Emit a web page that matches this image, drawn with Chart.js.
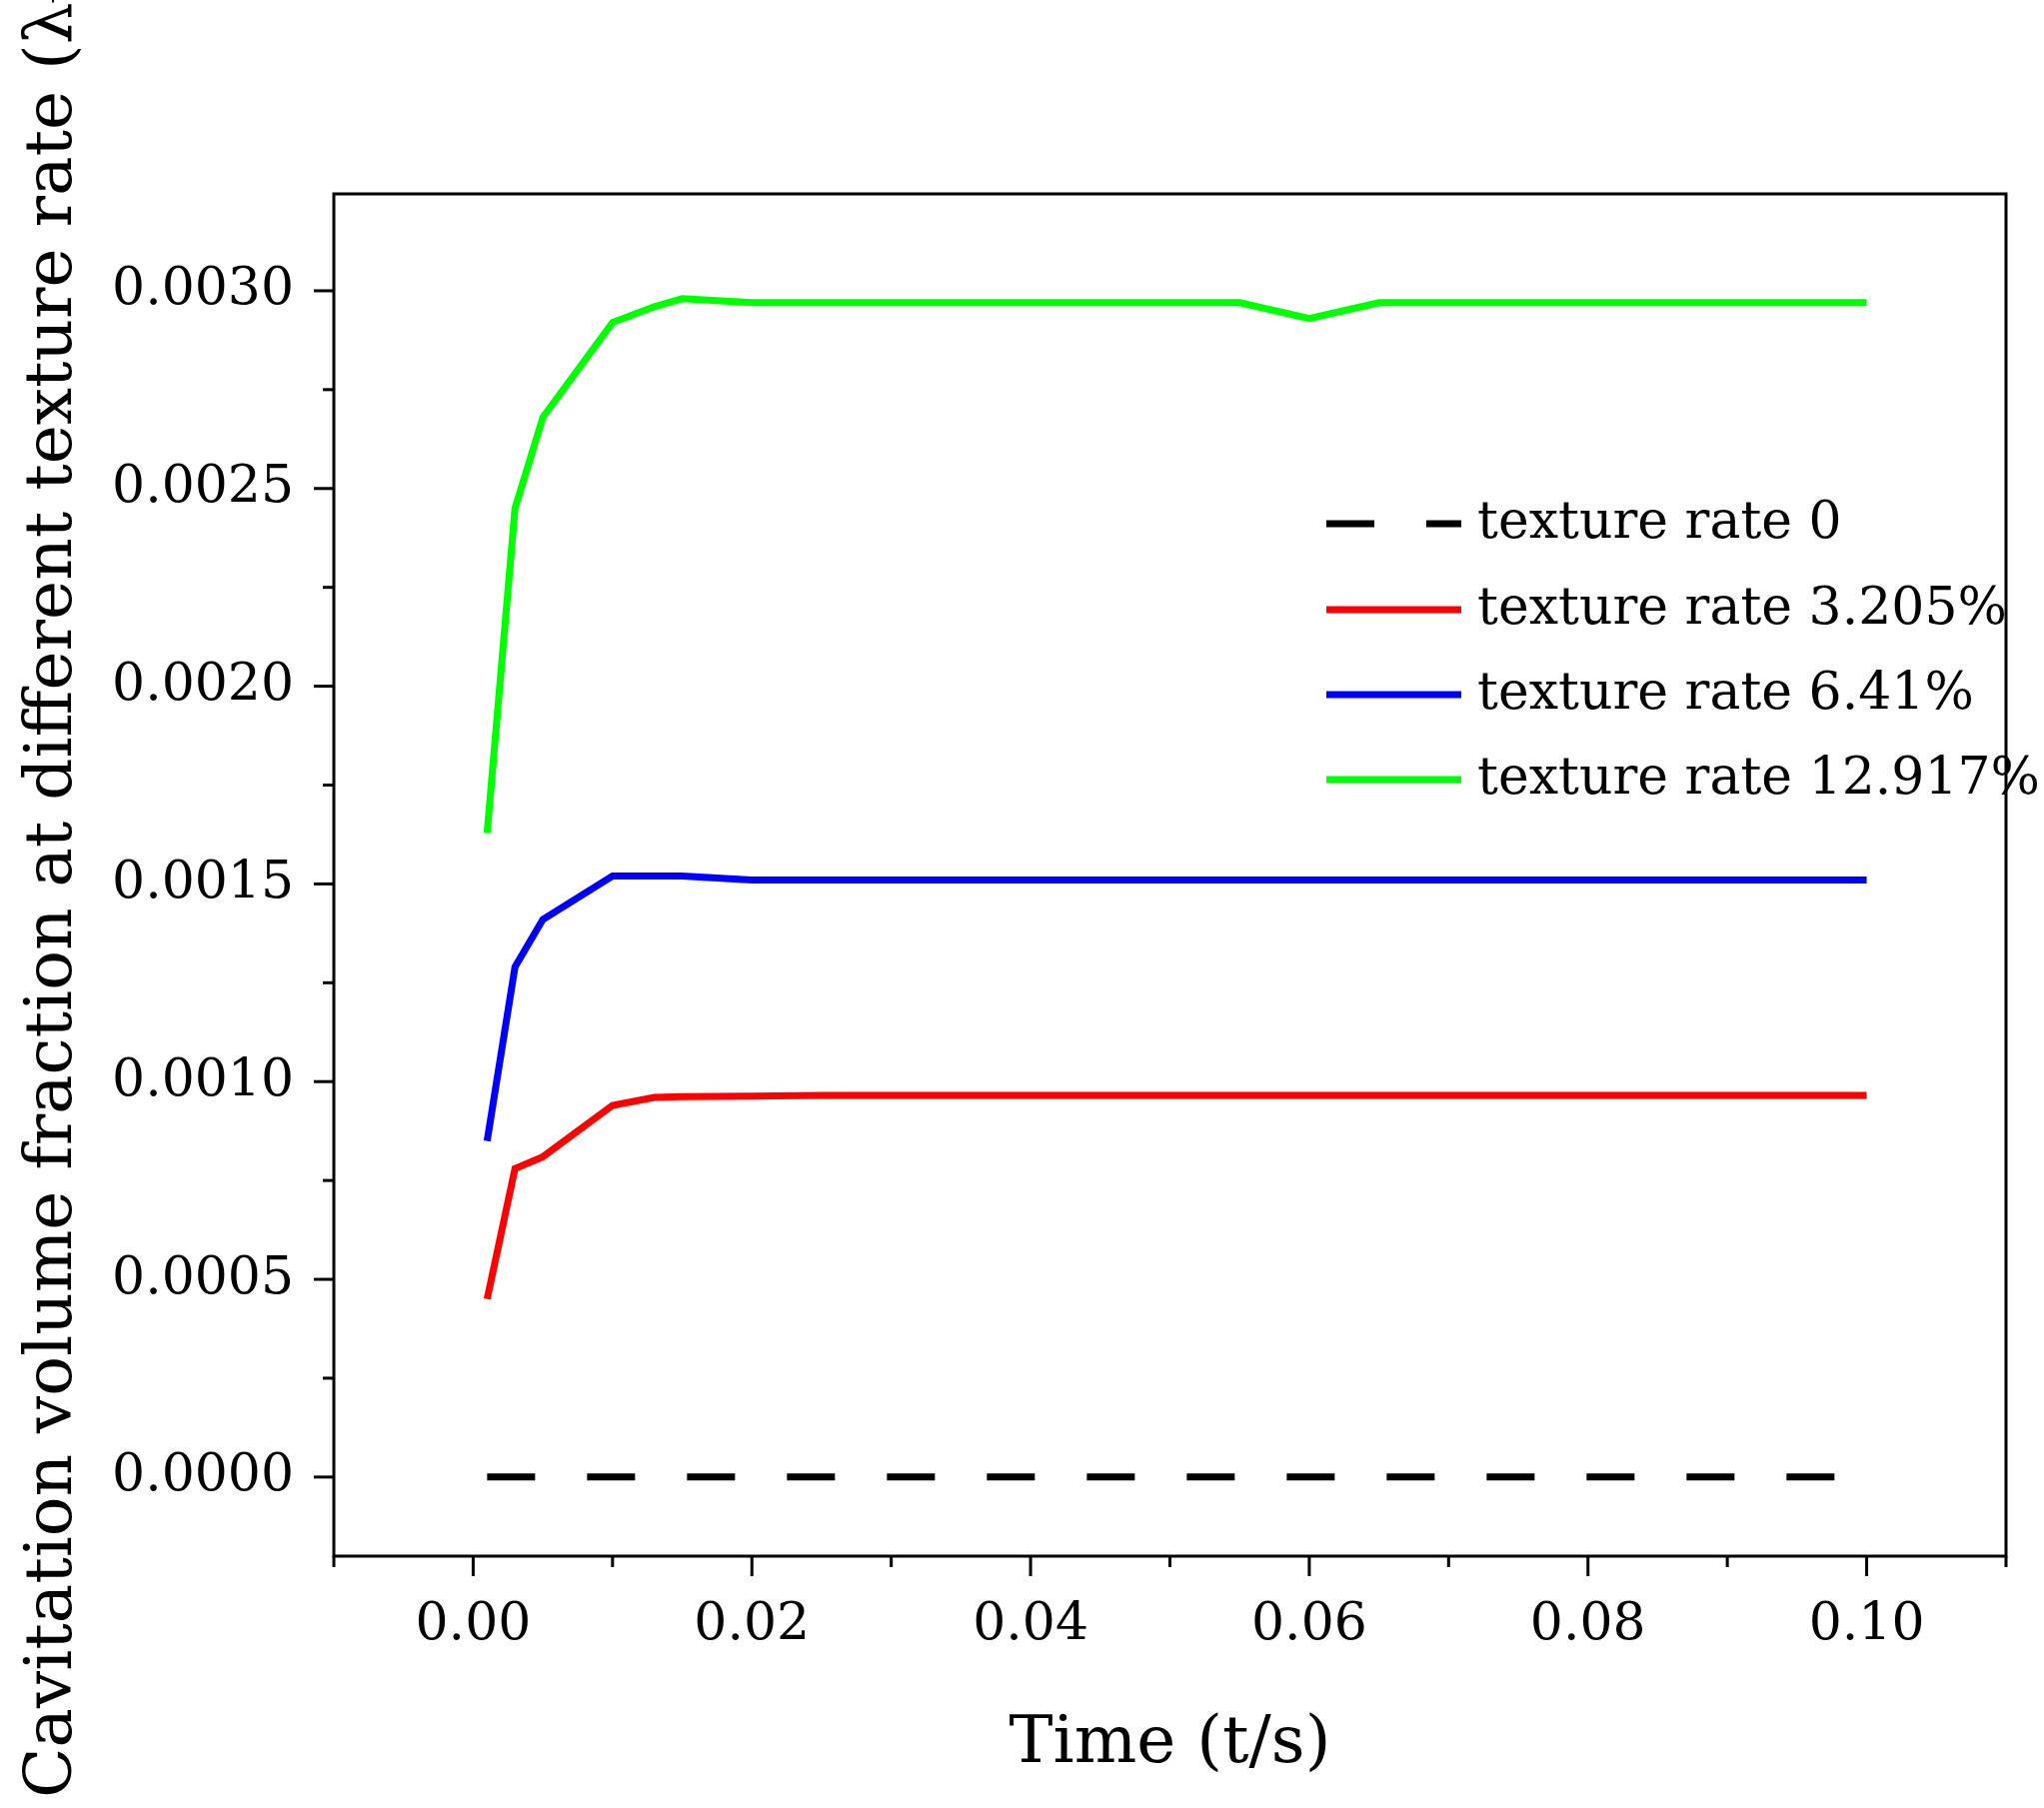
<!DOCTYPE html>
<html>
<head>
<meta charset="utf-8">
<script src="https://cdn.jsdelivr.net/npm/chart.js@4/dist/chart.umd.min.js"></script>
<style>
  html, body { margin: 0; padding: 0; background: #fff; }
  #wrap { width: 2045px; height: 1809px; }
</style>
</head>
<body>
<div id="wrap"><canvas id="c"></canvas></div>
<script>
'use strict';

// ---- Data ----

const timeX = [0.001, 0.003, 0.005, 0.01, 0.013, 0.015, 0.02, 0.025, 0.03, 0.035, 0.04, 0.045,
  0.05, 0.055, 0.06, 0.065, 0.07, 0.075, 0.08, 0.085, 0.09, 0.095, 0.1];
const rate0X = [0.001, 0.098];
const rate0 = [0, 0];
const rate3205 = [0.00045, 0.00078, 0.00081, 0.00094, 0.00096, 0.000962, 0.000963, 0.000965, 0.000965,
  0.000965, 0.000965, 0.000965, 0.000965, 0.000965, 0.000965, 0.000965, 0.000965, 0.000965,
  0.000965, 0.000965, 0.000965, 0.000965, 0.000965];
const rate641 = [0.00085, 0.00129, 0.00141, 0.00152, 0.00152, 0.00152, 0.00151, 0.00151, 0.00151,
  0.00151, 0.00151, 0.00151, 0.00151, 0.00151, 0.00151, 0.00151, 0.00151, 0.00151,
  0.00151, 0.00151, 0.00151, 0.00151, 0.00151];
const rate12917 = [0.00163, 0.00245, 0.00268, 0.00292, 0.00296, 0.00298, 0.00297, 0.00297, 0.00297,
  0.00297, 0.00297, 0.00297, 0.00297, 0.00297, 0.00293, 0.00297, 0.00297, 0.00297,
  0.00297, 0.00297, 0.00297, 0.00297, 0.00297];

const xTicks = [-0.01, 0, 0.01, 0.02, 0.03, 0.04, 0.05, 0.06, 0.07, 0.08, 0.09, 0.1, 0.11];
const xLabels = ['0.00', '0.02', '0.04', '0.06', '0.08', '0.10'];
const yTicks = [0, 0.00025, 0.0005, 0.00075, 0.001, 0.00125, 0.0015, 0.00175, 0.002,
  0.00225, 0.0025, 0.00275, 0.003];
const legendLabels = ['texture rate 0', 'texture rate 3.205%', 'texture rate 6.41%', 'texture rate 12.917%'];

const FONT = '"DejaVu Serif", "Liberation Serif", serif';

function pts(xs, ys) { return xs.map((x, i) => ({ x, y: ys[i] })); }

function isMajorX(v) { return Math.abs(v * 50 - Math.round(v * 50)) < 1e-6 && v > -0.001 && v < 0.101; }
function isMajorY(v) { return Math.abs(v * 2000 - Math.round(v * 2000)) < 1e-6 && v > -0.0001; }

// ---- Frame, ticks and legend ----

const framePlugin = {
  id: 'frame',
  afterDraw(chart) {
    const { ctx, chartArea: a, scales } = chart;
    ctx.save();
    ctx.strokeStyle = '#000';
    ctx.lineWidth = 3;
    ctx.strokeRect(a.left, a.top, a.right - a.left, a.bottom - a.top);
    xTicks.forEach(v => {
      const px = scales.x.getPixelForValue(v);
      const len = isMajorX(v) ? 20 : 11;
      ctx.beginPath(); ctx.moveTo(px, a.bottom); ctx.lineTo(px, a.bottom + len); ctx.stroke();
    });
    yTicks.forEach(v => {
      const py = scales.y.getPixelForValue(v);
      const len = isMajorY(v) ? 20 : 11;
      ctx.beginPath(); ctx.moveTo(a.left, py); ctx.lineTo(a.left - len, py); ctx.stroke();
    });

    // legend
    const x0 = 1327, x1 = 1462, tx = 1478;
    const ys = [524, 610, 695, 780];
    ctx.font = '52px ' + FONT;
    ctx.textBaseline = 'middle';
    ctx.fillStyle = '#000';
    chart.data.datasets.forEach((ds, i) => {
      ctx.strokeStyle = ds.borderColor;
      ctx.lineWidth = 7;
      ctx.setLineDash(ds.borderDash || []);
      ctx.beginPath(); ctx.moveTo(x0, ys[i]); ctx.lineTo(x1, ys[i]); ctx.stroke();
      ctx.setLineDash([]);
      ctx.fillText(legendLabels[i], tx, ys[i]);
    });
    ctx.restore();
  },
};

// ---- Chart ----

new Chart(document.getElementById('c'), {
  type: 'line',
  data: {
    datasets: [
      { label: legendLabels[0], data: pts(rate0X, rate0), borderColor: '#000000', borderDash: [48, 52] },
      { label: legendLabels[1], data: pts(timeX, rate3205), borderColor: '#ff0000' },
      { label: legendLabels[2], data: pts(timeX, rate641), borderColor: '#0000ff' },
      { label: legendLabels[3], data: pts(timeX, rate12917), borderColor: '#00ff00' },
    ].map(d => Object.assign({ borderWidth: 7, pointRadius: 0, tension: 0, fill: false }, d)),
  },
  options: {
    responsive: true,
    maintainAspectRatio: false,
    animation: false,
    layout: { padding: { top: 194, right: 20, left: 10, bottom: 20 } },
    plugins: { legend: { display: false }, tooltip: { enabled: false } },
    scales: {
      x: {
        type: 'linear', min: -0.01, max: 0.11,
        afterBuildTicks: s => { s.ticks = xTicks.map(v => ({ value: v })); },
        afterFit: s => { s.height = 232; },
        grid: { display: false, drawTicks: false },
        border: { display: false },
        ticks: {
          autoSkip: false, maxRotation: 0, padding: 38, color: '#000',
          font: { family: FONT, size: 52 },
          callback: v => isMajorX(v) ? xLabels[Math.round(v * 50)] : '',
        },
        title: { display: true, text: 'Time (t/s)', color: '#000', font: { family: FONT, size: 66 }, padding: { top: 30 } },
      },
      y: {
        type: 'linear', min: -0.0002, max: 0.003245,
        afterBuildTicks: s => { s.ticks = yTicks.map(v => ({ value: v })); },
        afterFit: s => { s.width = 324; },
        grid: { display: false, drawTicks: false },
        border: { display: false },
        ticks: {
          autoSkip: false, padding: 40, color: '#000',
          font: { family: FONT, size: 52 },
          callback: v => isMajorY(v) ? v.toFixed(4) : '',
        },
        title: {
          display: true, text: 'Cavitation volume fraction at different texture rate (\u03BB\u1D65)',
          color: '#000', font: { family: FONT, size: 66 }, padding: { bottom: 0 },
        },
      },
    },
  },
  plugins: [framePlugin],
});
</script>
</body>
</html>
